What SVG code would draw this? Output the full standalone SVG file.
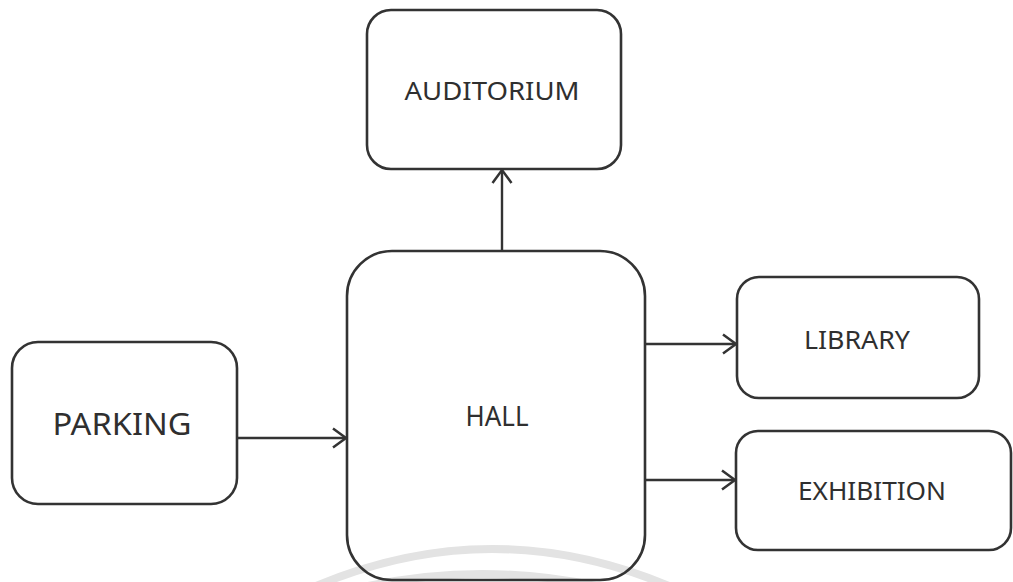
<svg xmlns="http://www.w3.org/2000/svg" width="1013" height="582" viewBox="0 0 1013 582">
<style>
.box{fill:none;stroke:#333;stroke-width:2.6}
.lbl{font-family:"Noto Sans","Open Sans","Liberation Sans",sans-serif;fill:#2f2f2f;text-anchor:middle}
.edge{fill:none;stroke:#333;stroke-width:2.4}
.wm{fill:none;stroke:#e3e3e3;stroke-width:8}
</style>
<defs>
<marker id="arr" markerUnits="userSpaceOnUse" markerWidth="22" markerHeight="26" refX="15" refY="11" orient="auto">
<path d="M2,1.5 L15,11 L2,20.5" fill="none" stroke="#333" stroke-width="2.5"/>
</marker>
</defs>
<rect width="1013" height="582" fill="#fff"/>
<g id="watermark">
<path class="wm" d="M316,586 Q492,512 669,586"/>
<path class="wm" d="M368,586 Q482,562 596,586"/>
</g>
<g id="auditorium">
<rect class="box" x="367" y="10" width="254" height="159" rx="24"/>
<text class="lbl" x="492" y="100" font-size="26" textLength="175" lengthAdjust="spacingAndGlyphs">AUDITORIUM</text>
</g>
<g id="hall">
<rect class="box" x="347" y="251" width="298" height="329" rx="45"/>
<text class="lbl" x="497" y="426" font-size="27" textLength="63" lengthAdjust="spacingAndGlyphs">HALL</text>
</g>
<g id="parking">
<rect class="box" x="12" y="342" width="225" height="162" rx="26"/>
<text class="lbl" x="122" y="435" font-size="30" textLength="139" lengthAdjust="spacingAndGlyphs">PARKING</text>
</g>
<g id="library">
<rect class="box" x="737" y="277" width="242" height="121" rx="22"/>
<text class="lbl" x="857" y="349" font-size="26" textLength="106" lengthAdjust="spacingAndGlyphs">LIBRARY</text>
</g>
<g id="exhibition">
<rect class="box" x="736" y="431" width="275" height="119" rx="22"/>
<text class="lbl" x="872" y="500" font-size="26" textLength="148" lengthAdjust="spacingAndGlyphs">EXHIBITION</text>
</g>
<g id="connectors">
<line class="edge" x1="502" y1="251" x2="502" y2="170" marker-end="url(#arr)"/>
<line class="edge" x1="237" y1="438" x2="346" y2="438" marker-end="url(#arr)"/>
<line class="edge" x1="645" y1="344" x2="736" y2="344" marker-end="url(#arr)"/>
<line class="edge" x1="645" y1="480" x2="735" y2="480" marker-end="url(#arr)"/>
</g>
</svg>
